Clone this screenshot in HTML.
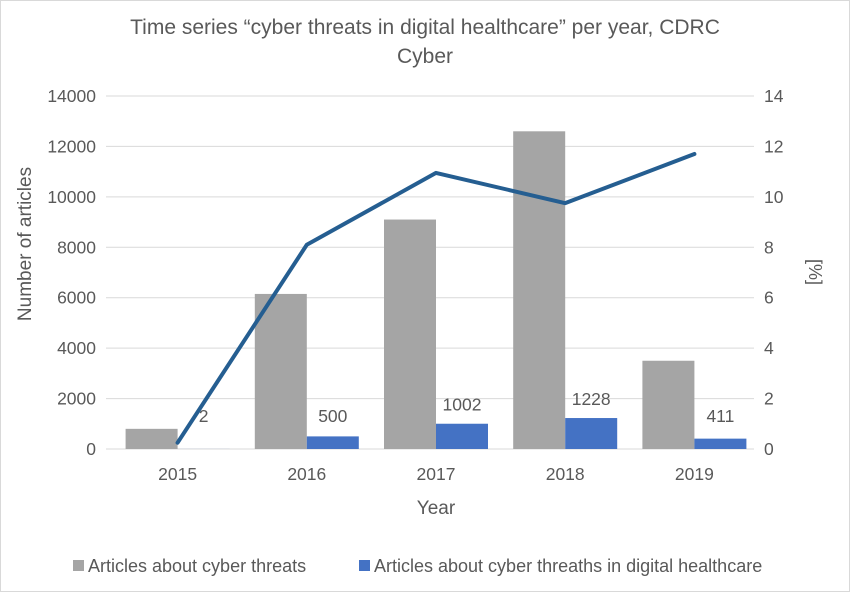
<!DOCTYPE html>
<html><head><meta charset="utf-8"><style>
body{margin:0;background:#fff;}
svg text{font-family:"Liberation Sans",sans-serif;fill:#595959;}
</style></head><body>
<svg id="chart" width="850" height="592" xmlns="http://www.w3.org/2000/svg">
<rect x="0.5" y="0.5" width="849" height="591" fill="#fff" stroke="#d9d9d9"/>
<text x="425" y="34" text-anchor="middle" font-size="21">Time series “cyber threats in digital healthcare” per year, CDRC</text>
<text x="425" y="63" text-anchor="middle" font-size="21">Cyber</text>
<g id="grid"></g><g id="bars"></g><g id="line"></g><g id="axes"></g>
<text x="0" y="0" transform="translate(31,244) rotate(-90)" text-anchor="middle" font-size="19">Number of articles</text>
<text x="0" y="0" transform="translate(809,272) rotate(90)" text-anchor="middle" font-size="18">[%]</text>
<text x="436" y="514" text-anchor="middle" font-size="19">Year</text>
<g>
<rect x="73" y="560" width="11" height="11" fill="#a5a5a5"/>
<text x="88" y="572" font-size="18">Articles about cyber threats</text>
<rect x="359" y="560" width="11" height="11" fill="#4472c4"/>
<text x="374" y="572" font-size="18">Articles about cyber threaths in digital healthcare</text>
</g>
</svg>
<script>
const years=["2015","2016","2017","2018","2019"];
const cyber=[800,6150,9100,12600,3500];
const health=[2,500,1002,1228,411];
const percent=[0.25,8.1,10.95,9.75,11.7];
const leftTicks=[0,2000,4000,6000,8000,10000,12000,14000];
const rightTicks=[0,2,4,6,8,10,12,14];
const NS="http://www.w3.org/2000/svg";
const X0=113,X1=759,Y0=449,Y1=96;
const cw=(X1-X0)/years.length;
const xc=i=>X0+cw*(i+0.5);
const yL=v=>Y0-(v/14000)*(Y0-Y1);
const yR=v=>Y0-(v/14)*(Y0-Y1);
function mk(tag,attrs,parent,text){const e=document.createElementNS(NS,tag);for(const k in attrs)e.setAttribute(k,attrs[k]);if(text!==undefined)e.textContent=text;document.getElementById(parent).appendChild(e);return e;}
leftTicks.forEach((t,i)=>{
 const g=mk("line",{x1:106,x2:X1-5,y1:yL(t),y2:yL(t),stroke:"#d9d9d9","stroke-width":1},"grid");
 
 
 const l=mk("text",{x:96,y:yL(t)+6,"text-anchor":"end","font-size":17.5},"axes",String(t));
 
 
});
rightTicks.forEach(t=>{
 const l=mk("text",{x:764,y:yR(t)+6,"font-size":17.5},"axes",String(t));
 
 
});
years.forEach((y,i)=>{
 const c=xc(i);
 const b=mk("rect",{x:c-52,y:yL(cyber[i]),width:52,height:Y0-yL(cyber[i]),fill:"#a5a5a5"},"bars");
 
 
 const b2=mk("rect",{x:c,y:yL(health[i]),width:52,height:Math.max(0,Y0-yL(health[i])),fill:"#4472c4"},"bars");
 
 
 const v=mk("text",{x:c+26,y:Math.min(yL(health[i]),Y0-14)-13,"text-anchor":"middle","font-size":17.5},"bars",String(health[i]));
 
 
 const xl=mk("text",{x:c,y:480,"text-anchor":"middle","font-size":17.5},"axes",y);
 
 
});
const pts=percent.map((p,i)=>xc(i)+","+yR(p)).join(" ");
const pl=mk("polyline",{points:pts,fill:"none",stroke:"#255e91","stroke-width":4,"stroke-linejoin":"round","stroke-linecap":"round"},"line");


</script>
</body></html>
